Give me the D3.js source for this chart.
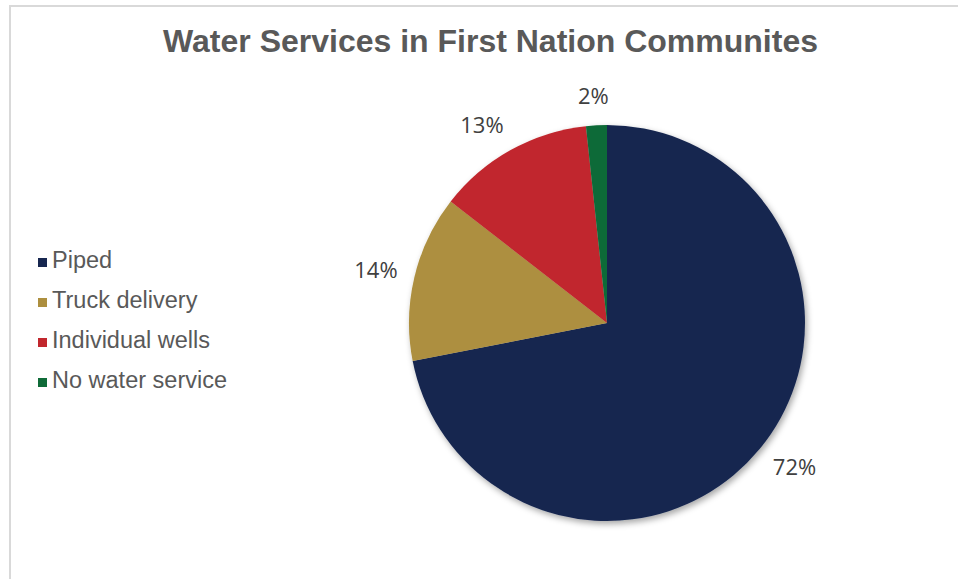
<!DOCTYPE html>
<html>
<head>
<meta charset="utf-8">
<script src="https://cdn.jsdelivr.net/npm/d3@7"></script>
<style>
  html, body { margin: 0; padding: 0; background: #fff; }
  svg { display: block; }
</style>
</head>
<body>
<svg id="chart" width="958" height="579"></svg>
<script>
const title = "Water Services in First Nation Communites";
const categories = ["Piped", "Truck delivery", "Individual wells", "No water service"];
const values = [72.0, 13.6, 12.8, 1.7];
const colors = ["#172750", "#ad8f3f", "#c1272d", "#0f6b38"];

const W = 958, H = 579;
const svg = d3.select("#chart");

// frame
svg.append("rect").attr("x", 10).attr("y", 6).attr("width", W).attr("height", H)
  .attr("fill", "#fff").attr("stroke", "#d9d9d9").attr("stroke-width", 2);

// title
svg.append("text").attr("x", 490.5).attr("y", 52).attr("text-anchor", "middle")
  .attr("font-family", "Liberation Sans, Arial, sans-serif").attr("font-weight", "bold")
  .attr("font-size", 32).attr("fill", "#595959").text(title);

// shadow filter
const defs = svg.append("defs");
const f = defs.append("filter").attr("id", "shadow").attr("x", "-20%").attr("y", "-20%").attr("width", "140%").attr("height", "140%");
f.append("feDropShadow").attr("dx", 2).attr("dy", 3).attr("stdDeviation", 3)
  .attr("flood-color", "#000").attr("flood-opacity", 0.35);

const cx = 607, cy = 323, r = 198;
const color = d3.scaleOrdinal().domain(categories).range(colors);
const pie = d3.pie().sort(null).value(d => d.v);
const data = categories.map((c, i) => ({ c, v: values[i] }));
const arcs = pie(data);
const arc = d3.arc().innerRadius(0).outerRadius(r);

const g = svg.append("g").attr("transform", `translate(${cx},${cy})`);
g.append("g").attr("filter", "url(#shadow)")
  .selectAll("path").data(arcs).join("path")
  .attr("d", arc).attr("fill", d => color(d.data.c));

// labels (outside end)
const total = d3.sum(values);
const fmt = d => Math.round(d.data.v / total * 100) + "%";
const labelR = 217, lw = 40, lh = 20;
const mid = d => (d.startAngle + d.endAngle) / 2;
g.selectAll("text.lbl").data(arcs).join("text").attr("class", "lbl")
  .attr("x", d => { const ux = Math.sin(mid(d)); return labelR * ux + Math.sign(ux) * Math.min(1, Math.abs(ux) * 2) * lw / 2; })
  .attr("y", d => { const uy = -Math.cos(mid(d)); return labelR * uy + uy * lh / 2; })
  .attr("dy", "0.36em").attr("text-anchor", "middle")
  .attr("font-family", "Open Sans, sans-serif").attr("font-size", 22).attr("fill", "#404040")
  .text(fmt);

// legend
const leg = svg.append("g");
const rowY = d3.scalePoint().domain(categories).range([268, 388]);
const items = leg.selectAll("g").data(categories).join("g")
  .attr("transform", d => `translate(0,${rowY(d)})`);
items.append("rect").attr("x", 38).attr("y", -10).attr("width", 9).attr("height", 9)
  .attr("fill", d => color(d));
items.append("text").attr("x", 52).attr("y", 0)
  .attr("font-family", "Liberation Sans, Arial, sans-serif").attr("font-size", 23.5)
  .attr("fill", "#595959").text(d => d);
</script>
</body>
</html>
